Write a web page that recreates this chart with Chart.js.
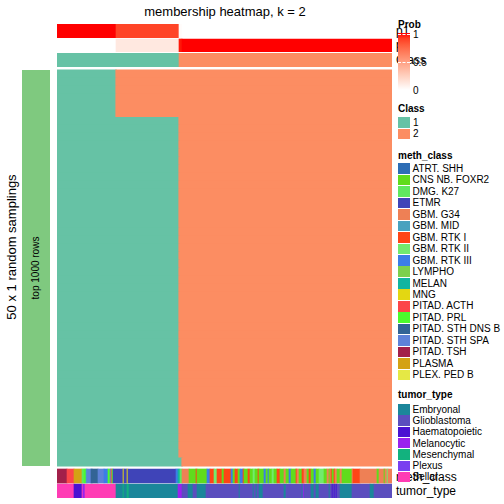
<!DOCTYPE html>
<html>
<head>
<meta charset="utf-8">
<script src="https://cdn.jsdelivr.net/npm/chart.js@4.4.1/dist/chart.umd.min.js"></script>
<style>
body { margin: 0; width: 504px; height: 504px; background: #fff; position: relative; overflow: hidden;
       font-family: "Liberation Sans", Arial, Helvetica, sans-serif; }
.t { position: absolute; white-space: nowrap; color: #000; line-height: 1; }
.rot { transform: translate(-50%, -50%) rotate(-90deg); }
.an { left: 396px; font-size: 12px; z-index: 1; }
.lg { z-index: 2; }
.b { font-weight: bold; font-size: 10px; }
.box { position: absolute; left: 398px; width: 12px; z-index: 2; }
</style>
</head>
<body>
<div class="t" style="left:225px;top:5px;font-size:13px;transform:translateX(-50%)">membership heatmap, k = 2</div>
<div class="t rot" style="left:11px;top:247px;font-size:13px">50 x 1 random samplings</div>
<div style="position:absolute;left:22px;top:70px;width:28px;height:396px;background:#7fc97f"></div>
<div class="t rot" style="left:36px;top:268px;font-size:10px">top 1000 rows</div>
<canvas id="hm" width="335" height="474" style="position:absolute;left:57px;top:24px"></canvas>

<div class="t an" style="top:25px">p1</div>
<div class="t an" style="top:39px">p2</div>
<div class="t an" style="top:54px">Class</div>
<div class="t an" style="top:471px">meth_class</div>
<div class="t an" style="top:485px">tumor_type</div>
<div id="legend"></div>

<script>
// p1 membership per run of columns: [value, number of columns]
const probRuns = [[1, 59], [0.88, 63], [0.02, 3], [0, 210]];

// column where each of the 50 samplings switches from class 1 to class 2
const samplingSplit = [
  59, 59, 59, 59, 59, 59, 122, 122, 122, 122,
  122, 122, 122, 122, 122, 122, 122, 122, 122, 122,
  122, 122, 122, 122, 122, 122, 122, 122, 122, 122,
  122, 122, 122, 122, 122, 122, 122, 122, 122, 122,
  122, 122, 122, 122, 122, 122, 122, 122, 122, 125
];

const methClasses = ['ATRT. SHH', 'CNS NB. FOXR2', 'DMG. K27', 'ETMR', 'GBM. G34', 'GBM. MID',
  'GBM. RTK I', 'GBM. RTK II', 'GBM. RTK III', 'LYMPHO', 'MELAN', 'MNG', 'PITAD. ACTH',
  'PITAD. PRL', 'PITAD. STH DNS B', 'PITAD. STH SPA', 'PITAD. TSH', 'PLASMA', 'PLEX. PED B'];

const tumorTypes = ['Embryonal', 'Glioblastoma', 'Haematopoietic', 'Melanocytic', 'Mesenchymal', 'Plexus', 'Sellar'];

// meth_class along the columns: [class, number of columns]
const methRuns = [
  ['PITAD. TSH', 10], ['PITAD. ACTH', 7], ['PLASMA', 8], ['DMG. K27', 2], ['PITAD. PRL', 2],
  ['GBM. MID', 1], ['PITAD. STH SPA', 4], ['PITAD. STH DNS B', 1], ['PITAD. STH DNS B', 6], ['PITAD. STH SPA', 6],
  ['GBM. RTK III', 4], ['PITAD. PRL', 2], ['PITAD. STH SPA', 1], ['PITAD. ACTH', 1], ['PITAD. PRL', 1],
  ['ETMR', 10], ['MNG', 1], ['ETMR', 3], ['MNG', 1], ['ETMR', 48],
  ['GBM. RTK III', 2], ['MELAN', 2], ['DMG. K27', 2], ['GBM. G34', 7], ['CNS NB. FOXR2', 7],
  ['GBM. RTK I', 1], ['CNS NB. FOXR2', 10], ['GBM. RTK III', 3], ['GBM. RTK I', 4], ['GBM. RTK II', 3],
  ['GBM. RTK I', 5], ['CNS NB. FOXR2', 2], ['GBM. RTK I', 7], ['GBM. RTK III', 2], ['CNS NB. FOXR2', 2],
  ['GBM. RTK I', 3], ['CNS NB. FOXR2', 2], ['GBM. RTK III', 3], ['GBM. RTK I', 1], ['CNS NB. FOXR2', 4],
  ['GBM. RTK I', 2], ['CNS NB. FOXR2', 3], ['GBM. RTK II', 2], ['CNS NB. FOXR2', 3], ['GBM. RTK I', 1],
  ['CNS NB. FOXR2', 5], ['GBM. RTK III', 2], ['CNS NB. FOXR2', 2], ['GBM. RTK III', 1], ['CNS NB. FOXR2', 3],
  ['GBM. RTK II', 2], ['CNS NB. FOXR2', 3], ['GBM. RTK I', 3], ['CNS NB. FOXR2', 4], ['GBM. G34', 2],
  ['CNS NB. FOXR2', 3], ['GBM. RTK III', 2], ['CNS NB. FOXR2', 5], ['GBM. RTK I', 1], ['GBM. G34', 2],
  ['CNS NB. FOXR2', 3], ['GBM. RTK I', 2], ['GBM. G34', 3], ['CNS NB. FOXR2', 2], ['GBM. RTK I', 2],
  ['CNS NB. FOXR2', 3], ['GBM. RTK III', 2], ['CNS NB. FOXR2', 3], ['GBM. RTK II', 5], ['CNS NB. FOXR2', 3],
  ['GBM. G34', 2], ['CNS NB. FOXR2', 1], ['GBM. G34', 1], ['GBM. RTK I', 1], ['CNS NB. FOXR2', 2],
  ['GBM. RTK I', 1], ['GBM. G34', 2], ['CNS NB. FOXR2', 3], ['GBM. G34', 2], ['CNS NB. FOXR2', 10],
  ['GBM. G34', 1], ['GBM. RTK I', 7], ['GBM. G34', 17], ['CNS NB. FOXR2', 2], ['GBM. G34', 5],
  ['CNS NB. FOXR2', 1], ['GBM. G34', 2], ['GBM. RTK II', 1], ['GBM. G34', 4]
];

// tumor_type along the columns
const tumorRuns = [
  ['Sellar', 17], ['Haematopoietic', 8], ['Sellar', 1], ['Melanocytic', 2], ['Sellar', 31],
  ['Embryonal', 7], ['Mesenchymal', 1], ['Embryonal', 3], ['Mesenchymal', 2], ['Embryonal', 49],
  ['Melanocytic', 4], ['Glioblastoma', 6], ['Embryonal', 5], ['Glioblastoma', 4], ['Embryonal', 9],
  ['Glioblastoma', 33], ['Embryonal', 1], ['Glioblastoma', 13], ['Embryonal', 1], ['Glioblastoma', 2],
  ['Embryonal', 1], ['Glioblastoma', 2], ['Embryonal', 4], ['Glioblastoma', 21], ['Embryonal', 2],
  ['Glioblastoma', 16], ['Embryonal', 1], ['Melanocytic', 1], ['Glioblastoma', 7], ['Embryonal', 3],
  ['Glioblastoma', 2], ['Embryonal', 3], ['Glioblastoma', 10], ['Embryonal', 1], ['Glioblastoma', 2],
  ['Haematopoietic', 1], ['Glioblastoma', 1], ['Haematopoietic', 1], ['Glioblastoma', 1], ['Haematopoietic', 1],
  ['Glioblastoma', 3], ['Embryonal', 12], ['Glioblastoma', 18], ['Embryonal', 4], ['Glioblastoma', 18]
];

const classColors = { 1: '#66c2a5', 2: '#fc8d62' };
const methColors = {
  'ATRT. SHH': '#2d6db5', 'CNS NB. FOXR2': '#60dc1c', 'DMG. K27': '#60e860', 'ETMR': '#3f44b8',
  'GBM. G34': '#ee8055', 'GBM. MID': '#48a2bf', 'GBM. RTK I': '#fe4516', 'GBM. RTK II': '#72ea6e',
  'GBM. RTK III': '#3c7de6', 'LYMPHO': '#7dd04d', 'MELAN': '#12b5a0', 'MNG': '#e3d712',
  'PITAD. ACTH': '#fc4649', 'PITAD. PRL': '#4cfc2c', 'PITAD. STH DNS B': '#326496',
  'PITAD. STH SPA': '#5e82d9', 'PITAD. TSH': '#a2204a', 'PLASMA': '#d4a214', 'PLEX. PED B': '#e5e845'
};
const tumorColors = {
  'Embryonal': '#1b869a', 'Glioblastoma': '#5b4ebe', 'Haematopoietic': '#4a12d2', 'Melanocytic': '#9a22ee',
  'Mesenchymal': '#12b27e', 'Plexus': '#7a40f0', 'Sellar': '#ff3cb4'
};

// white -> red in Lab space
const toLin = c => { c /= 255; return c <= 0.04045 ? c / 12.92 : Math.pow((c + 0.055) / 1.055, 2.4); };
const fromLin = c => { c = c <= 0.0031308 ? 12.92 * c : 1.055 * Math.pow(c, 1 / 2.4) - 0.055; return Math.round(Math.max(0, Math.min(1, c)) * 255); };
function rgb2lab([r, g, b]) {
  r = toLin(r); g = toLin(g); b = toLin(b);
  const f = t => t > 0.008856 ? Math.cbrt(t) : 7.787 * t + 16 / 116;
  const x = f((0.4124 * r + 0.3576 * g + 0.1805 * b) / 0.95047);
  const y = f(0.2126 * r + 0.7152 * g + 0.0722 * b);
  const z = f((0.0193 * r + 0.1192 * g + 0.9505 * b) / 1.08883);
  return [116 * y - 16, 500 * (x - y), 200 * (y - z)];
}
function lab2rgb([L, a, b]) {
  const fy = (L + 16) / 116, fx = a / 500 + fy, fz = fy - b / 200;
  const fi = t => t * t * t > 0.008856 ? t * t * t : (t - 16 / 116) / 7.787;
  const x = fi(fx) * 0.95047, y = fi(fy), z = fi(fz) * 1.08883;
  const r = 3.2406 * x - 1.5372 * y - 0.4986 * z;
  const g = -0.9689 * x + 1.8758 * y + 0.0415 * z;
  const bb = 0.0557 * x - 0.2040 * y + 1.0570 * z;
  return `rgb(${fromLin(r)},${fromLin(g)},${fromLin(bb)})`;
}
const labW = rgb2lab([255, 255, 255]), labR = rgb2lab([255, 0, 0]);
const probColor = v => lab2rgb(labW.map((w, i) => w + (labR[i] - w) * v));

const nCols = probRuns.reduce((s, r) => s + r[1], 0);

// vertical layout of the tracks, in canvas pixels
const track = {
  p1: { top: 0, h: 13.7 }, p2: { top: 15, h: 12.7 }, cls: { top: 29.3, h: 13.4 },
  main: { top: 46, h: 396 }, meth: { top: 445, h: 14 }, tumor: { top: 460, h: 14 }
};

function runsToBars(runs, t, color) {
  const data = [], bg = [];
  let s = 0;
  runs.forEach(([v, w]) => {
    data.push({ x: [s, s + w], y: t.top + t.h / 2 });
    bg.push(color(v));
    s += w;
  });
  return { data, backgroundColor: bg, barThickness: t.h };
}

const p2Runs = probRuns.map(([v, w]) => [1 - v, w]);
const classRuns = probRuns.map(([v, w]) => [v >= 0.5 ? 1 : 2, w]);

// one row per sampling, two segments each
const rowH = track.main.h / samplingSplit.length;
const mainData = [], mainBg = [];
samplingSplit.forEach((split, i) => {
  const y = track.main.top + (i + 0.5) * rowH;
  mainData.push({ x: [0, split], y }); mainBg.push(classColors[1]);
  mainData.push({ x: [split, nCols], y }); mainBg.push(classColors[2]);
});

const datasets = [
  runsToBars(probRuns, track.p1, probColor),
  runsToBars(p2Runs, track.p2, probColor),
  runsToBars(classRuns, track.cls, c => classColors[c]),
  { data: mainData, backgroundColor: mainBg, barThickness: rowH, inflateAmount: 0.6 },
  runsToBars(methRuns, track.meth, c => methColors[c]),
  runsToBars(tumorRuns, track.tumor, c => tumorColors[c])
].map(d => Object.assign({ borderWidth: 0, stack: 'hm', grouped: true }, d));

new Chart(document.getElementById('hm'), {
  type: 'bar',
  data: { datasets },
  options: {
    indexAxis: 'y',
    responsive: false,
    animation: false,
    events: [],
    layout: { padding: 0 },
    scales: {
      x: { type: 'linear', min: 0, max: nCols, display: false, stacked: false, offset: false },
      y: { type: 'linear', min: 0, max: 474, reverse: true, display: false, offset: false }
    },
    plugins: { legend: { display: false }, tooltip: { enabled: false } }
  }
});

// legends
const lg = document.getElementById('legend');
function add(html) { lg.insertAdjacentHTML('beforeend', html); }
function text(s, left, cy, cls, size) {
  add(`<div class="t lg ${cls}" style="left:${left}px;top:${cy - size / 2}px;font-size:${size}px">${s}</div>`);
}
// Prob
text('Prob', 398, 24.5, 'b', 10);
const stops = [];
for (let i = 0; i <= 10; i++) stops.push(`${probColor(1 - i / 10)} ${i * 10}%`);
add(`<div class="box" style="top:33px;height:57px;background:linear-gradient(${stops.join(',')})"></div>`);
[[1, '1'], [0.5, '0.5'], [0, '0']].forEach(([v, s]) => {
  const y = 33.5 + (1 - v) * 56.5;
  add(`<div class="box" style="top:${y}px;height:0;border-top:1px dashed #fff"></div>`);
  text(s, 413, y + 1, '', 10);
});
// Class
text('Class', 398, 108.5, 'b', 10);
[1, 2].forEach((c, i) => {
  const top = 117.3 + i * 11.3;
  add(`<div class="box" style="top:${top}px;height:10.6px;background:${classColors[c]}"></div>`);
  text(String(c), 413, top + 5.5, '', 10);
});
// meth_class
text('meth_class', 398, 156, 'b', 10);
methClasses.forEach((c, i) => {
  const top = 163.3 + i * 11.46;
  add(`<div class="box" style="top:${top}px;height:10.7px;background:${methColors[c]}"></div>`);
  text(c, 412.5, top + 5.6, '', 10);
});
// tumor_type
text('tumor_type', 398, 395, 'b', 10);
tumorTypes.forEach((c, i) => {
  const top = 404 + i * 11.3;
  add(`<div class="box" style="top:${top}px;height:10.6px;background:${tumorColors[c]}"></div>`);
  text(c, 412.5, top + 5.6, '', 10);
});
</script>
</body>
</html>
